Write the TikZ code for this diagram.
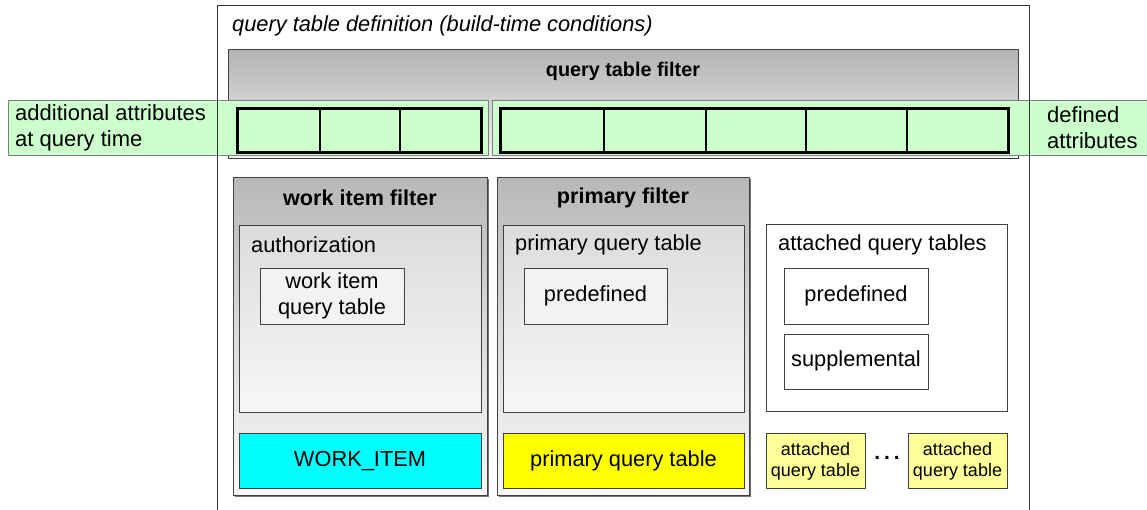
\documentclass[tikz,border=0pt]{standalone}
\usepackage{fontspec}
\setmainfont{Liberation Sans}
\usetikzlibrary{shadows}
\definecolor{band}{HTML}{CCFFCC}
\definecolor{lightyellow}{HTML}{FFFF99}
\definecolor{cyanbox}{HTML}{00FFFF}
\definecolor{yellowbox}{HTML}{FFFF00}
\tikzset{
  frame/.style={draw=black!75, line width=0.8pt, inner sep=0pt, outer sep=0pt, anchor=north west},
  shad/.style={drop shadow={shadow xshift=1.5pt, shadow yshift=-1.5pt, fill=black!55, opacity=1}},
  filterbox/.style={frame, shad, top color=black!28, bottom color=black!3, middle color=black!14},
  innerbox/.style={frame, top color=black!14, bottom color=black!3},
  plainbox/.style={frame, fill=white},
  litebox/.style={frame, fill=black!5},
  bandbox/.style={draw=black!50, line width=0.6pt, fill=band, inner sep=0pt, outer sep=0pt, anchor=north west},
  thickbox/.style={draw=black, line width=3pt, inner sep=0pt, outer sep=0pt, anchor=north west},
  txt/.style={inner sep=0pt, font=\fontsize{21.8}{26}\selectfont},
  btxt/.style={inner sep=0pt, font=\fontsize{21.6}{25}\selectfont\bfseries},
  stxt/.style={inner sep=0pt, align=center, font=\fontsize{18}{21}\selectfont},
}
\begin{document}
\begin{tikzpicture}[x=1pt, y=-1pt]
\clip (0,0) rectangle (1147,509);
\fill[white] (0,0) rectangle (1147,509);
% title
\node[anchor=west, inner sep=0pt, font=\fontsize{21.8}{25}\selectfont\itshape] (title) at (232,26) {query table definition (build-time conditions)};
% query table filter
\node[frame, top color=black!30, bottom color=black!5, minimum width=790, minimum height=109] (qtf) at (228,49) {};
\node[inner sep=0pt, font=\fontsize{19.8}{23}\selectfont\bfseries] (qtftext) at (623,71) {query table filter};
% green bands
\node[bandbox, minimum width=480, minimum height=55] (bandl) at (8,100) {};
\node[bandbox, minimum width=660, minimum height=55] (bandr) at (492,100) {};
\node[txt, anchor=west, align=left, font=\fontsize{22}{26}\selectfont] (addattr) at (15,128) {additional attributes\\at query time};
\node[txt, anchor=west, align=left, font=\fontsize{22}{26}\selectfont] (defattr) at (1047,128) {defined\\attributes};
% thick attribute boxes
\node[thickbox, minimum width=244, minimum height=44] (attl) at (237,108) {};
\draw[line width=1.2pt] (320,108) -- (320,152) (400,108) -- (400,152);
\node[thickbox, minimum width=508, minimum height=44] (attr) at (500,108) {};
\draw[line width=1.2pt] (604,108) -- (604,152) (706,108) -- (706,152) (806,108) -- (806,152) (907,108) -- (907,152);
% work item filter
\node[filterbox, minimum width=254, minimum height=318] (wif) at (233,177) {};
\node[btxt] (wiftext) at (360,198) {work item filter};
\node[innerbox, minimum width=242, minimum height=187] (auth) at (239,225) {};
\node[txt, anchor=west] (authtext) at (251,245) {authorization};
\node[litebox, minimum width=144, minimum height=56] (wiqt) at (260,268) {};
\node[txt, align=center] (wiqttext) at (332,296) {work item\\query table};
\node[frame, fill=cyanbox, minimum width=242, minimum height=55] (wi) at (239,433) {};
\node[txt] (witext) at (360,461) {WORK\_ITEM};
% primary filter
\node[filterbox, minimum width=252, minimum height=318] (pf) at (497,177) {};
\node[btxt] (pftext) at (623,198) {primary filter};
\node[innerbox, minimum width=241, minimum height=187] (pqt) at (503,225) {};
\node[txt, anchor=west] (pqttext) at (515,245) {primary query table};
\node[litebox, minimum width=143, minimum height=56] (ppre) at (524,268) {};
\node[txt] (ppretext) at (595.5,296) {predefined};
\node[frame, fill=yellowbox, minimum width=241, minimum height=55] (pqtab) at (503,433) {};
\node[txt] (pqtabtext) at (623.5,461) {primary query table};
% attached query tables
\node[plainbox, minimum width=241, minimum height=187] (aqt) at (766,224) {};
\node[txt, anchor=west] (aqttext) at (778,245) {attached query tables};
\node[plainbox, minimum width=144, minimum height=56] (apre) at (784,268) {};
\node[txt] (apretext) at (856,296) {predefined};
\node[plainbox, minimum width=144, minimum height=55] (asup) at (784,334) {};
\node[txt] (asuptext) at (856,361) {supplemental};
\node[frame, fill=lightyellow, minimum width=99, minimum height=55] (aq1) at (766,433) {};
\node[stxt] (aq1text) at (815.5,461) {attached\\query table};
\node[frame, fill=lightyellow, minimum width=99, minimum height=55] (aq2) at (908,433) {};
\node[stxt] (aq2text) at (957.5,461) {attached\\query table};
\node[inner sep=0pt, font=\fontsize{21}{25}\selectfont\bfseries] (dots) at (887,458) {.\hspace{4pt}.\hspace{4pt}.};
% outer frame drawn last
\draw[black!80, line width=0.8pt] (217,520) -- (217,5) -- (1029,5) -- (1029,520);
\end{tikzpicture}
\end{document}
